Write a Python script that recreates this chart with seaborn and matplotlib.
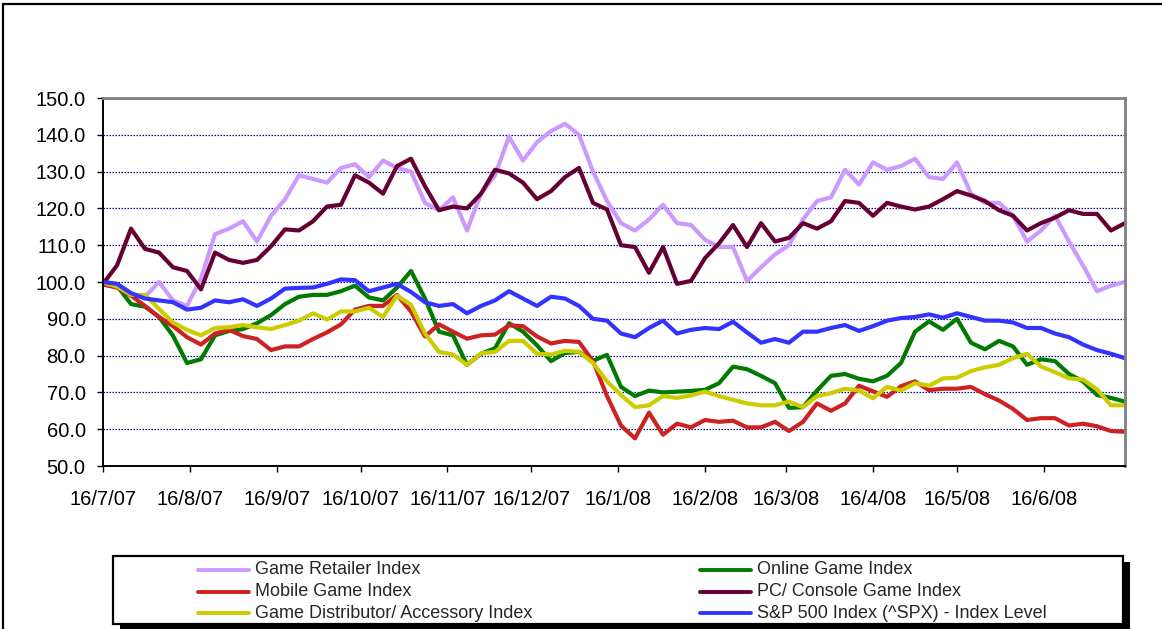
import numpy as np
import pandas as pd
import matplotlib
matplotlib.use('Agg')
import matplotlib.pyplot as plt
import matplotlib.dates as mdates
from matplotlib.ticker import FuncFormatter, MultipleLocator
from matplotlib.patches import Rectangle
from matplotlib.lines import Line2D
import seaborn as sns

# 日期范围（约每5天一个点）
start_date = '2007-07-16'
end_date = '2008-07-15'
n_points = 74

series_names = ['Game Retailer Index', 'Online Game Index', 'Mobile Game Index',
                'PC/ Console Game Index', 'Game Distributor/ Accessory Index',
                'S&P 500 Index (^SPX) - Index Level']
series_colors = ['#CC99FF', '#007A00', '#CC2222', '#660033', '#CCCC00', '#3333FF']

retailer = [100, 99.5, 96.5, 96, 100, 95, 93.5, 101, 113, 114.5,
            116.5, 111, 118, 122.5, 129, 128, 127, 131, 132, 128.5,
            133, 131, 130, 121.5, 119.5, 123, 114, 124, 129, 139.5,
            133, 138, 141, 143, 140, 130, 122, 116, 114, 117,
            121, 116, 115.5, 111.5, 109.5, 109.5, 100.3, 104, 107.5, 110,
            117, 122, 123, 130.5, 126.5, 132.5, 130.5, 131.5, 133.5, 128.5,
            128, 132.5, 124, 121.5, 121.5, 118, 111, 114, 118, 111,
            104.5, 97.5, 99, 100]
online = [99.7, 99, 94, 93.3, 90.5, 85.4, 78, 79, 85.5, 86.7,
          87.2, 88.8, 91, 94, 96, 96.5, 96.5, 97.5, 99, 95.8,
          95, 98.5, 103, 95.5, 86.5, 85.5, 77.5, 80.5, 82, 88.8,
          86.5, 82.8, 78.5, 80.7, 81, 78.6, 80.2, 71.5, 69, 70.5,
          70, 70.2, 70.4, 70.7, 72.5, 77, 76.3, 74.5, 72.5, 65.8,
          66, 70.5, 74.5, 75, 73.7, 73, 74.5, 78, 86.5, 89.3,
          87, 90, 83.5, 81.7, 84, 82.5, 77.5, 79, 78.5, 75,
          73, 69.3, 68.5, 67.5]
mobile = [99.3, 98.5, 96.3, 93.5, 90.5, 88, 85, 83, 86, 87,
          85.3, 84.5, 81.5, 82.5, 82.5, 84.5, 86.3, 88.5, 92.5, 93.5,
          93.5, 96.5, 92, 85.2, 88.5, 86.5, 84.6, 85.5, 85.7, 88.2,
          88, 85.2, 83.3, 84, 83.7, 78.5, 69, 61, 57.5, 64.5,
          58.5, 61.5, 60.5, 62.5, 62, 62.3, 60.5, 60.5, 62, 59.5,
          62, 67, 65, 67, 71.8, 70.3, 68.8, 71.7, 73, 70.6,
          71, 71, 71.5, 69.5, 67.8, 65.5, 62.5, 63, 63, 61,
          61.5, 60.8, 59.5, 59.3]
pc_console = [99.5, 104.5, 114.5, 109, 108, 104, 103, 98, 108, 106,
              105.2, 106, 109.7, 114.3, 114, 116.5, 120.5, 121, 129, 127,
              124, 131.5, 133.5, 126, 119.5, 120.5, 120, 124, 130.5, 129.5,
              127, 122.5, 124.7, 128.5, 131, 121.5, 119.7, 110, 109.5, 102.5,
              109.5, 99.5, 100.3, 106.5, 110.5, 115.5, 109.5, 116, 111, 112,
              116, 114.5, 116.5, 122, 121.5, 118, 121.5, 120.5, 119.7, 120.5,
              122.5, 124.7, 123.5, 122, 119.5, 118, 114, 116, 117.5, 119.5,
              118.5, 118.5, 114, 116]
distributor = [99.8, 98.8, 96.5, 96.5, 92.7, 89, 87, 85.5, 87.5, 87.7,
               88.3, 87.7, 87.2, 88.3, 89.5, 91.5, 89.8, 92, 92, 93,
               90.5, 96.3, 93.8, 86, 81, 80.3, 77.5, 80.6, 81, 84,
               84, 80.5, 80.3, 81.3, 81, 78, 73, 69.3, 66, 66.5,
               69, 68.5, 69.2, 70.2, 69, 68, 67, 66.5, 66.5, 67.5,
               66, 69, 69.8, 71, 70.5, 68.4, 71.5, 70.5, 72.5, 71.8,
               73.8, 74, 75.8, 76.8, 77.5, 79.3, 80.5, 77, 75.5, 73.8,
               73.5, 70.8, 66.5, 66.5]
spx = [100, 99.5, 97, 95.5, 95, 94.5, 92.5, 93, 95, 94.5,
       95.3, 93.5, 95.5, 98.2, 98.4, 98.5, 99.5, 100.7, 100.5, 97.5,
       98.5, 99.5, 97.3, 94.5, 93.5, 94, 91.5, 93.5, 95, 97.5,
       95.5, 93.5, 96, 95.5, 93.5, 90, 89.5, 86, 85, 87.5,
       89.5, 86, 87, 87.5, 87.2, 89.2, 86.3, 83.5, 84.5, 83.5,
       86.5, 86.5, 87.5, 88.3, 86.7, 88, 89.5, 90.2, 90.5, 91.2,
       90.3, 91.5, 90.5, 89.5, 89.5, 89, 87.5, 87.5, 86, 85,
       83, 81.5, 80.5, 79.3]

dates = pd.date_range(start_date, end_date, periods=n_points)
df = pd.DataFrame({'Date': dates})
for name, vals in zip(series_names, [retailer, online, mobile, pc_console, distributor, spx]):
    df[name] = vals
long_df = df.melt(id_vars='Date', var_name='Series', value_name='Index')

sns.set_style('white')
plt.rcParams['font.family'] = ['Liberation Sans', 'DejaVu Sans']
fs_tick = 14.5
fs_leg = 13

W, H = 1162, 629
fig = plt.figure(figsize=(W / 100, H / 100), dpi=100)
ax = fig.add_axes([103 / W, (H - 466) / H, (1125 - 103) / W, (466 - 98) / H])

sns.lineplot(data=long_df, x='Date', y='Index', hue='Series', hue_order=series_names,
             palette=series_colors, linewidth=3.0, legend=False, ax=ax,
             solid_joinstyle='round')

ax.set_xlim(pd.Timestamp(start_date), pd.Timestamp(end_date))
ax.set_ylim(50, 150)
ax.yaxis.set_major_locator(MultipleLocator(10))
ax.yaxis.set_major_formatter(FuncFormatter(lambda v, p: f'{v:.1f}'))
ax.xaxis.set_major_locator(mdates.MonthLocator(bymonthday=16))
ax.xaxis.set_major_formatter(FuncFormatter(
    lambda v, p: (lambda d: f'{d.day}/{d.month}/{d:%y}')(mdates.num2date(v))))
ax.set_xlabel('')
ax.set_ylabel('')

for y in range(60, 150, 10):
    ax.axhline(y, color='#000080', lw=0.9, ls=(0, (1.2, 1.2)), zorder=0)

for s in ['left', 'bottom']:
    ax.spines[s].set_color('black')
    ax.spines[s].set_linewidth(1.4)
for s in ['top', 'right']:
    ax.spines[s].set_color('#808080')
    ax.spines[s].set_linewidth(2)

ax.tick_params(axis='y', left=True, direction='out', length=4.5, width=1,
               pad=8, labelsize=fs_tick, colors='black')
ax.tick_params(axis='x', bottom=True, direction='out', length=4.5, width=1,
               pad=13, labelsize=fs_tick, colors='black')

# 外框
fig.add_artist(Rectangle((3 / W, -0.1), 1.2, (H - 4) / H + 0.1, transform=fig.transFigure,
                         fill=False, edgecolor='black', lw=1.6))

# 图例框（带阴影）
bx0, bx1, by0, by1 = 113, 1123, 556, 624
fig.add_artist(Rectangle(((bx0 + 7) / W, (H - by1 - 6) / H), (bx1 - bx0) / W, (by1 - by0) / H,
                         transform=fig.transFigure, facecolor='black', edgecolor='black', lw=0))
fig.add_artist(Rectangle((bx0 / W, (H - by1) / H), (bx1 - bx0) / W, (by1 - by0) / H,
                         transform=fig.transFigure, facecolor='white', edgecolor='black', lw=1.6))

col_x = [198, 700]
row_y = [570, 592, 613]
for i, (name, color) in enumerate(zip(series_names, series_colors)):
    r, c = i // 2, i % 2
    x0 = col_x[c]
    yy = (H - row_y[r]) / H
    fig.add_artist(Line2D([x0 / W, (x0 + 51) / W], [yy, yy], transform=fig.transFigure,
                          color=color, lw=2.8))
    fig.text((x0 + 57) / W, yy, name, fontsize=fs_leg, va='center', ha='left')

fig.savefig('out.png', dpi=100)
